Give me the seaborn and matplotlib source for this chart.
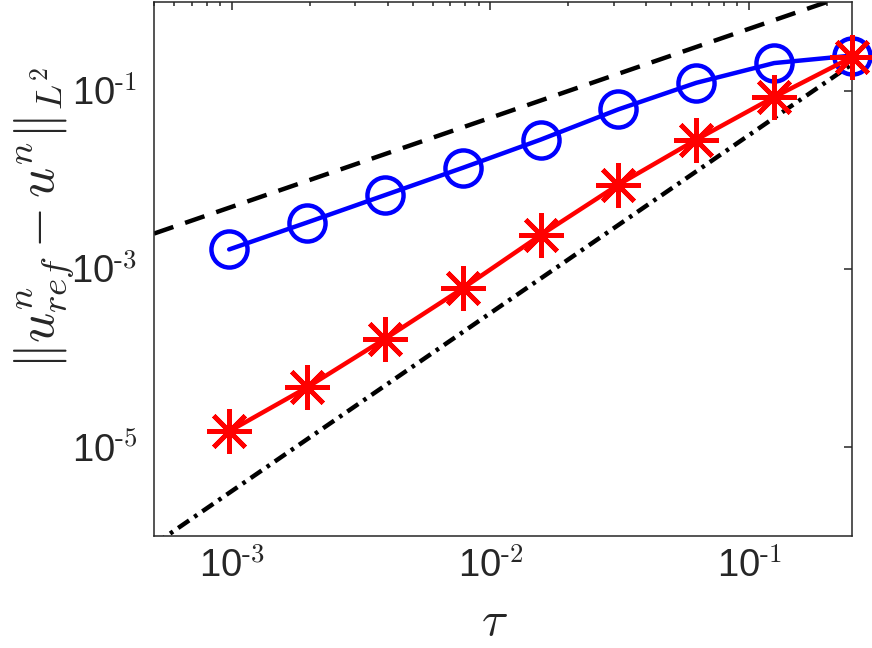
import numpy as np
import pandas as pd
import matplotlib
matplotlib.use("Agg")
import matplotlib.pyplot as plt
import seaborn as sns
from matplotlib.ticker import FixedLocator, FixedFormatter, LogLocator, NullFormatter

# ---- data ----
tau = [2**-10, 2**-9, 2**-8, 2**-7, 2**-6, 2**-5, 2**-4, 2**-3, 2**-2]
err_blue = [1.66e-3, 3.33e-3, 6.76e-3, 1.37e-2, 2.84e-2, 6.22e-2, 1.236e-1, 2.06e-1, 2.5e-1]
err_red = [1.50e-5, 4.67e-5, 1.64e-4, 6.06e-4, 2.40e-3, 8.87e-3, 2.84e-2, 8.55e-2, 2.40e-1]
ref_tau = [5e-4, 2.5e-1]
ref_order1 = [2.5e-3, 1.25]      # dashed slope-1 guide
ref_order2 = [8.0e-7, 2.0e-1]    # dash-dot slope-2 guide
x_ticks = [1e-3, 1e-2, 1e-1]
x_ticklabels = ["-3", "-2", "-1"]
y_ticks = [1e-5, 1e-3, 1e-1]
y_ticklabels = ["-5", "-3", "-1"]
x_limits = [5e-4, 2.5e-1]
y_limits = [1e-6, 1.0]

sns.set_theme(style="white")
plt.rcParams['font.family'] = ['Liberation Sans', 'DejaVu Sans']
plt.rcParams['mathtext.fontset'] = 'cm'
plt.rcParams['axes.unicode_minus'] = False

fig = plt.figure(figsize=(8.72, 6.48), dpi=100)
ax = fig.add_axes([154/872, 1-536/648, (852-154)/872, (536-2)/648])

df_b = pd.DataFrame({"tau": tau, "err": err_blue})
df_r = pd.DataFrame({"tau": tau, "err": err_red})
df_1 = pd.DataFrame({"tau": ref_tau, "err": ref_order1})
df_2 = pd.DataFrame({"tau": ref_tau, "err": ref_order2})

sns.lineplot(data=df_1, x="tau", y="err", ax=ax, color="black", lw=3.2,
             zorder=2)
ax.lines[-1].set_dashes((4.6, 2.8))
ax.lines[-1].set_dash_capstyle('butt')
sns.lineplot(data=df_2, x="tau", y="err", ax=ax, color="black", lw=3.2,
             zorder=2)
ax.lines[-1].set_dashes((3.0, 1.4, 0.8, 1.4))
ax.lines[-1].set_dash_capstyle('butt')

sns.lineplot(data=df_b, x="tau", y="err", ax=ax, color=(0, 0, 1), lw=3.2,
             marker='o', markersize=26, markerfacecolor='none',
             markeredgecolor=(0, 0, 1), markeredgewidth=3.2, zorder=3)
sns.lineplot(data=df_r, x="tau", y="err", ax=ax, color=(1, 0, 0), lw=3.2,
             marker=(8, 2, 0), markersize=32, markeredgecolor=(1, 0, 0),
             markeredgewidth=3.4, zorder=4)
for ln in ax.lines[-2:]:
    ln.set_clip_on(False)

ax.set_xscale('log')
ax.set_yscale('log')
ax.set_xlim(*x_limits)
ax.set_ylim(*y_limits)

ax.xaxis.set_major_locator(FixedLocator(x_ticks))
ax.xaxis.set_major_formatter(FixedFormatter(
    [r'$\mathdefault{10^{\text{' + s + r'}}}$' for s in x_ticklabels]))
ax.yaxis.set_major_locator(FixedLocator(y_ticks))
ax.yaxis.set_major_formatter(FixedFormatter(
    [r'$\mathdefault{10^{\text{' + s + r'}}}$' for s in y_ticklabels]))
ax.xaxis.set_minor_locator(LogLocator(base=10, subs=np.arange(2, 10), numticks=20))
ax.xaxis.set_minor_formatter(NullFormatter())
ax.yaxis.set_minor_locator(FixedLocator([]))

ax.tick_params(axis='both', which='both', direction='in', top=True, right=True,
               color='#262626', width=1.1)
ax.tick_params(axis='both', which='major', length=5.5, labelsize=27.5,
               labelcolor='#262626')
ax.tick_params(axis='x', which='major', pad=9)
ax.tick_params(axis='y', which='major', pad=12)
ax.tick_params(axis='both', which='minor', length=3.2)
for sp in ax.spines.values():
    sp.set_color('#262626')
    sp.set_linewidth(1.1)

ax.set_xlabel(r'$\tau$', fontsize=35, color='#262626')
ax.set_ylabel(r'$\Vert u^n_{ref} - u^n\Vert_{L^2}$', fontsize=38, color='#262626')
ax.xaxis.set_label_coords((494-154)/698, (536-600)/534)
ax.yaxis.set_label_coords((76-154)/698, (536-218)/534)
ax.grid(False)

fig.savefig("out.png", dpi=100)
